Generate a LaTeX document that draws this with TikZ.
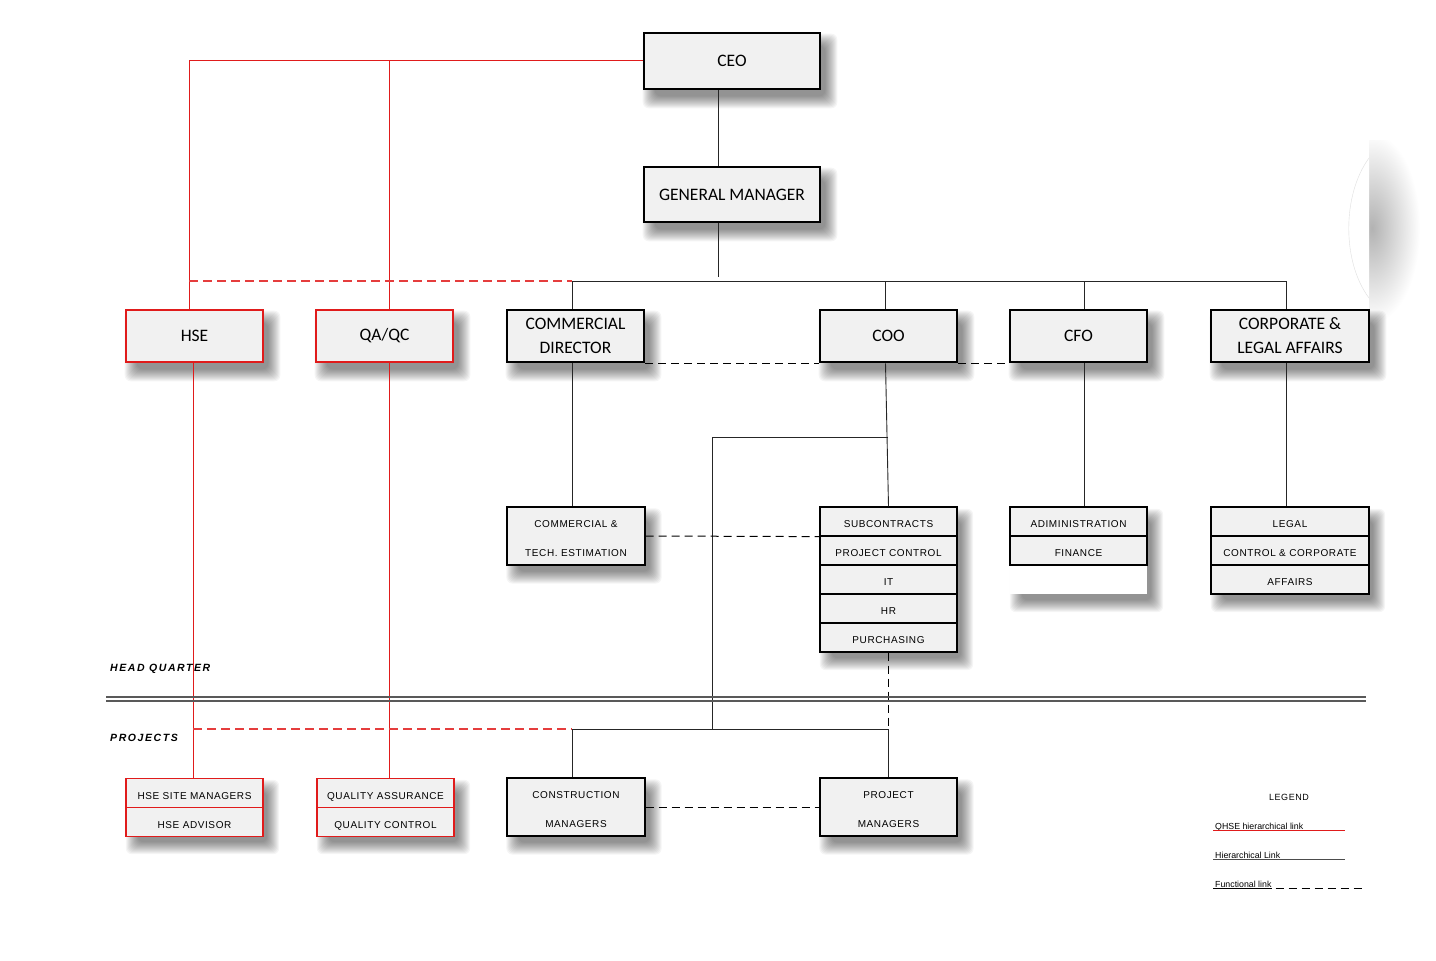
\documentclass[tikz,border=0pt]{standalone}
\usepackage{fontspec}
\usetikzlibrary{backgrounds,calc}
\newfontfamily\carlito{Carlito}
\newfontfamily\arialsp[LetterSpace=6]{Liberation Sans}
\newfontfamily\arialhq[LetterSpace=15]{Liberation Sans}
\newfontfamily\arialsm{Liberation Sans}
\definecolor{boxgray}{HTML}{F1F1F1}
\definecolor{qred}{HTML}{E01B1B}
\begin{document}
\begin{tikzpicture}[x=1pt,y=-1pt,
  bigbox/.style={draw=black,line width=2.6pt,fill=boxgray,font=\carlito\fontsize{17.5}{24}\selectfont,align=center,inner sep=0pt},
  topbox/.style={bigbox,minimum width=176pt,minimum height=56pt},
  midbox/.style={bigbox,minimum width=137pt,minimum height=52pt},
  redbox/.style={midbox,draw=qred},
  row/.style={draw=black,line width=1.2pt,fill=boxgray,minimum height=29pt,inner sep=0pt,text height=12pt,text depth=0pt,font=\arialsp\fontsize{10}{12}\selectfont},
  redrow/.style={row,draw=qred},
  tallbox/.style={draw=black,line width=1.2pt,fill=boxgray,minimum width=138pt,minimum height=58pt,inner sep=0pt,text height=41pt,text depth=0pt,align=center,font=\arialsp\fontsize{10}{29}\selectfont},
  stackbg/.style={fill=boxgray,draw=none,inner sep=0pt},
  link/.style={draw=black!85,line width=0.9pt},
  redlink/.style={draw=qred,line width=0.9pt},
  fdash/.style={draw=black,line width=1pt,dash pattern=on 8pt off 5pt},
  rdash/.style={draw=qred!85,line width=1.1pt,dash pattern=on 9pt off 5pt},
  lbl/.style={font=\arialhq\bfseries\itshape\fontsize{10.5}{12}\selectfont,anchor=west,inner sep=0pt},
  legtext/.style={anchor=base west,font=\arialsm\fontsize{8.8}{10}\selectfont,inner sep=0pt}
]
\useasboundingbox (0,0) rectangle (1436,961);

% stack backgrounds
\node[stackbg,minimum width=137pt,minimum height=145pt] (subbg) at (888.5,579.5) {};
\node[stackbg,fill=white,minimum width=137pt,minimum height=87pt] (admbg) at (1078.5,550.5) {};
\node[stackbg,minimum width=158pt,minimum height=87pt] (legbg) at (1290,550.5) {};
\node[stackbg,minimum width=137pt,minimum height=58pt] (hsmbg) at (194.5,807) {};
\node[stackbg,minimum width=137pt,minimum height=58pt] (qabg) at (385.5,807) {};

% top level
\node[topbox] (ceo) at (732,61) {CEO};
\node[topbox,minimum height=55pt] (gm) at (732,194.5) {GENERAL MANAGER};

\node[redbox] (hse) at (194.5,336) {HSE};
\node[redbox] (qaqc) at (384.5,336) {QA/QC};
\node[midbox] (cd) at (575.5,336) {COMMERCIAL\\DIRECTOR};
\node[midbox] (coo) at (888.5,336) {COO};
\node[midbox] (cfo) at (1078.5,336) {CFO};
\node[midbox,minimum width=158pt] (cla) at (1290,336) {CORPORATE \&\\LEGAL AFFAIRS};

% second level
\node[tallbox] (cte) at (576,536) {COMMERCIAL \&\\TECH. ESTIMATION};

\node[row,minimum width=137pt] (sub1) at (888.5,521.5) {SUBCONTRACTS};
\node[row,minimum width=137pt] (sub2) at (888.5,550.5) {PROJECT CONTROL};
\node[row,minimum width=137pt] (sub3) at (888.5,579.5) {IT};
\node[row,minimum width=137pt] (sub4) at (888.5,608.5) {HR};
\node[row,minimum width=137pt] (sub5) at (888.5,637.5) {PURCHASING};

\node[row,minimum width=137pt] (adm1) at (1078.5,521.5) {ADIMINISTRATION};
\node[row,minimum width=137pt] (adm2) at (1078.5,550.5) {FINANCE};

\node[row,minimum width=158pt] (leg1) at (1290,521.5) {LEGAL};
\node[row,minimum width=158pt] (leg2) at (1290,550.5) {CONTROL \& CORPORATE};
\node[row,minimum width=158pt] (leg3) at (1290,579.5) {AFFAIRS};

% projects level
\node[redrow,minimum width=137pt] (hsm1) at (194.5,793) {HSE SITE MANAGERS};
\node[redrow,minimum width=137pt] (hsm2) at (194.5,822) {HSE ADVISOR};
\node[redrow,minimum width=137pt] (qa1) at (385.5,793) {QUALITY ASSURANCE};
\node[redrow,minimum width=137pt] (qa2) at (385.5,822) {QUALITY CONTROL};
\node[tallbox] (cm) at (576,807) {CONSTRUCTION\\MANAGERS};
\node[tallbox,minimum width=137pt] (pm) at (888.5,807) {PROJECT\\MANAGERS};

% helper coordinates
\coordinate (bus) at (0,281);
\coordinate (pbus) at (0,729);
\coordinate (j1) at (888,437);
\coordinate (j2) at (712,437);

% hierarchical links
\draw[link] ([xshift=-14pt]ceo.south) -- ([xshift=-14pt]gm.north);
\draw[link] ([xshift=-14pt]gm.south) -- ([xshift=-14pt,yshift=4pt]gm.south |- bus);
\draw[link] ([xshift=-3.5pt]cd.north |- bus) -- ([xshift=-4pt]cla.north |- bus);
\draw[link] ([xshift=-3.5pt]cd.north |- bus) -- ([xshift=-3.5pt]cd.north);
\draw[link] ([xshift=-3.5pt]coo.north |- bus) -- ([xshift=-3.5pt]coo.north);
\draw[link] ([xshift=5.5pt]cfo.north |- bus) -- ([xshift=5.5pt]cfo.north);
\draw[link] ([xshift=-4pt]cla.north |- bus) -- ([xshift=-4pt]cla.north);
\draw[link] ([xshift=-3.5pt]cd.south) -- ([xshift=-4pt]cte.north);
\draw[link] ([xshift=-3pt]coo.south) -- (sub1.north);
\draw[link] ([xshift=5.5pt]cfo.south) -- ([xshift=5.5pt]adm1.north);
\draw[link] ([xshift=-4pt]cla.south) -- ([xshift=-4pt]leg1.north);
\draw[link] (j1) -- (j2) -- (j2 |- pbus);
\draw[link] ([xshift=-4pt]cm.north) -- ([xshift=-4pt]cm.north |- pbus) -- (pm.north |- pbus) -- (pm.north);

% QHSE links
\draw[redlink] (ceo.west |- 0,60) -| ([xshift=-5.5pt]hse.north);
\draw[redlink] ([xshift=4.5pt]qaqc.north |- 0,60) -- ([xshift=4.5pt]qaqc.north);
\draw[redlink] ([xshift=-1.5pt]hse.south) -- ([xshift=-1.5pt]hsm1.north);
\draw[redlink] ([xshift=4.5pt]qaqc.south) -- ([xshift=3.5pt]qa1.north);
\draw[rdash] ([xshift=-5.5pt]hse.north |- bus) -- ([xshift=-3.5pt]cd.north |- bus);
\draw[rdash] ([xshift=-1.5pt]hsm1.north |- pbus) -- ([xshift=-4pt]cm.north |- pbus);

% functional links
\draw[fdash] (cd.south east) -- (coo.south west);
\draw[fdash] (coo.south east) -- (cfo.south west);
\draw[fdash] (cte.east) -- (sub1.south west);
\draw[fdash] (sub5.south) -- (pm.north |- pbus);
\draw[fdash] (cm.east) -- (pm.west);

% HQ / projects separator
\coordinate (sepL) at (106,697);
\coordinate (sepR) at (1366,697);
\draw[black!65,line width=1.2pt] (sepL) -- (sepR);
\draw[black!65,line width=1.2pt] ([yshift=-4pt]sepL) -- ([yshift=-4pt]sepR);
\node[lbl] (hq) at (110,669) {HEAD QUARTER};
\node[lbl] (pj) at (110,738) {PROJECTS};

% legend
\node[font=\arialsp\fontsize{9}{10}\selectfont,inner sep=0pt] (legend) at (1289,797) {LEGEND};
\node[legtext] (lq) at (1215,829) {QHSE hierarchical link};
\node[legtext] (lh) at (1215,858) {Hierarchical Link};
\node[legtext] (lf) at (1215,887) {Functional link};
\coordinate (lqend) at (1345,830.5);
\coordinate (lhend) at (1345,859.5);
\coordinate (lfend) at (1366,888.5);
\draw[qred,line width=0.8pt] ([xshift=-2pt,yshift=-1.5pt]lq.base west) -- (lqend);
\draw[black!70,line width=0.8pt] ([xshift=-2pt,yshift=-1.5pt]lh.base west) -- (lhend);
\draw[black,line width=0.8pt] ([xshift=-2pt,yshift=-1.5pt]lf.base west) -- ([yshift=-1.5pt]lf.base east);
\draw[black,line width=1pt,dash pattern=on 8pt off 5pt] ([xshift=4pt,yshift=-1.5pt]lf.base east) -- (lfend);

% background: page, shadows, right-side artefact
\begin{pgfonlayer}{background}
  \fill[white] (0,0) rectangle (1436,961);
  \begin{scope}
    \clip (1369,140) rectangle (1436,320);
    \shade[inner color=gray!60,outer color=white] (1372,228) ellipse (48 and 95);
  \end{scope}
  \fill[white] (1369,158) .. controls (1342,195) and (1342,262) .. (1369,298) -- cycle;
  \draw[gray!25] (1369,158) .. controls (1342,195) and (1342,262) .. (1369,298);
  \foreach \n in {ceo,gm,hse,qaqc,cd,coo,cfo,cla,cte,subbg,admbg,legbg,hsmbg,qabg,cm,pm} {
    \foreach \i in {-4,...,8} {
      \fill[black,opacity=0.04,rounded corners=6pt]
        ([shift={(8-\i,10-\i)}]\n.north west) rectangle ([shift={(8+\i,10+\i)}]\n.south east);
    }
  }
\end{pgfonlayer}
\end{tikzpicture}
\end{document}
